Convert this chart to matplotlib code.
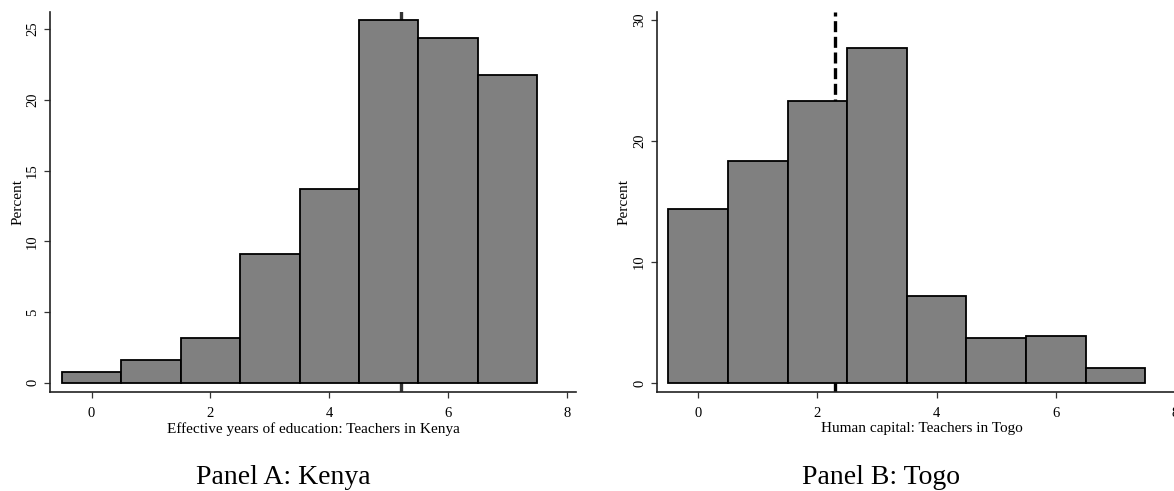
import numpy as np
import matplotlib
matplotlib.use('Agg')
import matplotlib.pyplot as plt

plt.rcParams['font.family'] = ['Liberation Serif', 'DejaVu Serif']

# bin centres (width 1) and percent per bin
bins = [0, 1, 2, 3, 4, 5, 6, 7]
kenya_pct = [0.78, 1.58, 3.19, 9.1, 13.66, 25.6, 24.35, 21.77]
togo_pct = [14.39, 18.38, 23.3, 27.68, 7.17, 3.71, 3.9, 1.25]
kenya_mean = 5.2
togo_mean = 2.3

xticks = [0, 2, 4, 6, 8]
kenya_yticks = [0, 5, 10, 15, 20, 25]
togo_yticks = [0, 10, 20, 30]


def panel(ax, pct, yticks, xlabel):
    ax.bar(bins, pct, width=1.0, color='#808080', edgecolor='black', linewidth=1.3, zorder=3)
    ax.set_xticks(xticks)
    ax.set_yticks(yticks)
    ax.tick_params(axis='both', direction='out', length=4.3, width=0.9, labelsize=10.5, color='#333333')
    ax.tick_params(axis='y', labelrotation=90, pad=3.5)
    for lab in ax.get_yticklabels():
        lab.set_va('center')
    ax.tick_params(axis='x', pad=6.5)
    ax.set_xlabel(xlabel, fontsize=11)
    ax.xaxis.set_label_coords(0.5, -0.080)
    ax.set_ylabel('Percent', fontsize=11)
    ax.yaxis.set_label_coords(-0.049, 0.5)
    for s in ['top', 'right']:
        ax.spines[s].set_visible(False)
    for s in ['left', 'bottom']:
        ax.spines[s].set_linewidth(1.2)
        ax.spines[s].set_color('#222222')


fig = plt.figure(figsize=(11.74, 4.91), dpi=100)

ax1 = fig.add_axes([0.0426, 0.2016, 0.448, 0.7740])
panel(ax1, kenya_pct, kenya_yticks, 'Effective years of education: Teachers in Kenya')
ax1.axvline(kenya_mean, color='#333333', linewidth=2.4, zorder=2)
ax1.set_xlim(-0.7, 8.15)
ax1.set_ylim(-0.65, 26.2)

ax2 = fig.add_axes([0.5596, 0.2016, 0.4514, 0.7740])
panel(ax2, togo_pct, togo_yticks, 'Human capital: Teachers in Togo')
ax2.axvline(togo_mean, color='black', linewidth=2.4, linestyle=(0, (3.3, 1.4)), zorder=2)
ax2.set_xlim(-0.69, 8.2)
ax2.set_ylim(-0.74, 30.66)

fig.text(0.241, 0.0143, 'Panel A: Kenya', fontsize=20, ha='center', va='baseline')
fig.text(0.75, 0.0143, 'Panel B: Togo', fontsize=20, ha='center', va='baseline')

fig.savefig('out.png', dpi=100)
